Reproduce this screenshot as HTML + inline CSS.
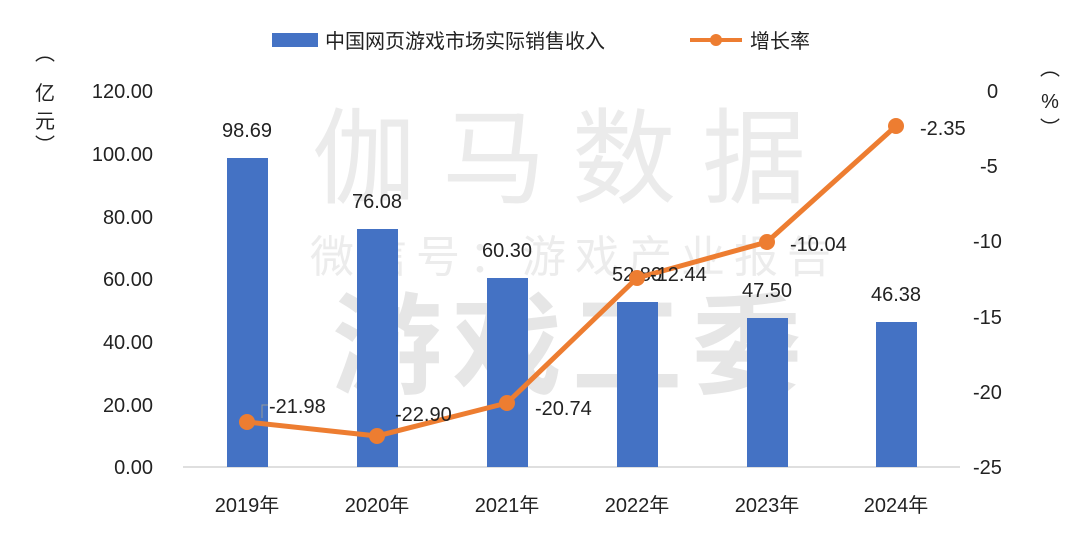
<!DOCTYPE html>
<html><head><meta charset="utf-8"><style>
body{margin:0;background:#fff}
svg{display:block}
text{font-family:"Liberation Sans","Noto Sans CJK SC",sans-serif;fill:#222}
</style></head><body>
<svg width="1080" height="542" viewBox="0 0 1080 542">
<g text-anchor="middle">
<text x="572" y="195" font-size="104" style="fill:#ebebeb" letter-spacing="26">伽马数据</text>
<text x="575" y="272" font-size="44" style="fill:#ececec" letter-spacing="9">微信号：游戏产业报告</text>
<text x="572" y="385" font-size="110" style="fill:#e6e6e6;font-weight:bold" letter-spacing="10">游戏工委</text>
</g>
<rect x="272" y="33" width="46" height="14" fill="#4472c4"/>
<text x="325" y="48" font-size="20">中国网页游戏市场实际销售收入</text>
<line x1="690" y1="40" x2="742" y2="40" stroke="#ed7d31" stroke-width="4"/>
<circle cx="716" cy="40" r="6" fill="#ed7d31"/>
<text x="750" y="48" font-size="20">增长率</text>
<g font-size="20" text-anchor="middle">
<text x="45" y="60">︵</text><text x="45" y="100">亿</text><text x="45" y="128">元</text><text x="45" y="152">︶</text>
<text x="1050" y="75">︵</text><text x="1050" y="108">%</text><text x="1050" y="135">︶</text>
</g>
<g font-size="20" text-anchor="end">
<text x="153" y="98">120.00</text><text x="153" y="161">100.00</text><text x="153" y="224">80.00</text>
<text x="153" y="286">60.00</text><text x="153" y="349">40.00</text><text x="153" y="412">20.00</text><text x="153" y="474">0.00</text>
</g>
<g font-size="20" text-anchor="start">
<text x="987" y="98">0</text><text x="980" y="173">-5</text><text x="973" y="248">-10</text>
<text x="973" y="324">-15</text><text x="973" y="399">-20</text><text x="973" y="474">-25</text>
</g>
<line x1="183" y1="467" x2="960" y2="467" stroke="#bfbfbf" stroke-width="1"/>
<g fill="#4472c4">
<rect x="227" y="158" width="41" height="309"/>
<rect x="357" y="229" width="41" height="238"/>
<rect x="487" y="278" width="41" height="189"/>
<rect x="617" y="302" width="41" height="165"/>
<rect x="747" y="318" width="41" height="149"/>
<rect x="876" y="322" width="41" height="145"/>
</g>
<g font-size="20" text-anchor="middle">
<text x="247" y="137">98.69</text><text x="377" y="208">76.08</text><text x="507" y="257">60.30</text>
<text x="637" y="281">52.80</text><text x="767" y="297">47.50</text><text x="896" y="301">46.38</text>
</g>
<polyline points="247,422 377,436 507,403 637,278 767,242 896,126" fill="none" stroke="#ed7d31" stroke-width="5" stroke-linejoin="round"/>
<g fill="#ed7d31">
<circle cx="247" cy="422" r="8"/><circle cx="377" cy="436" r="8"/><circle cx="507" cy="403" r="8"/>
<circle cx="637" cy="278" r="8"/><circle cx="767" cy="242" r="8"/><circle cx="896" cy="126" r="8"/>
</g>
<polyline points="262,418 262,405 268,405" fill="none" stroke="#999" stroke-width="1"/>
<g font-size="20">
<text x="269" y="413">-21.98</text><text x="395" y="421">-22.90</text><text x="535" y="415">-20.74</text>
<text x="650" y="281">-12.44</text><text x="790" y="251">-10.04</text><text x="920" y="135">-2.35</text>
</g>
<g font-size="20" text-anchor="middle">
<text x="247" y="512">2019年</text><text x="377" y="512">2020年</text><text x="507" y="512">2021年</text>
<text x="637" y="512">2022年</text><text x="767" y="512">2023年</text><text x="896" y="512">2024年</text>
</g>
</svg>
</body></html>
